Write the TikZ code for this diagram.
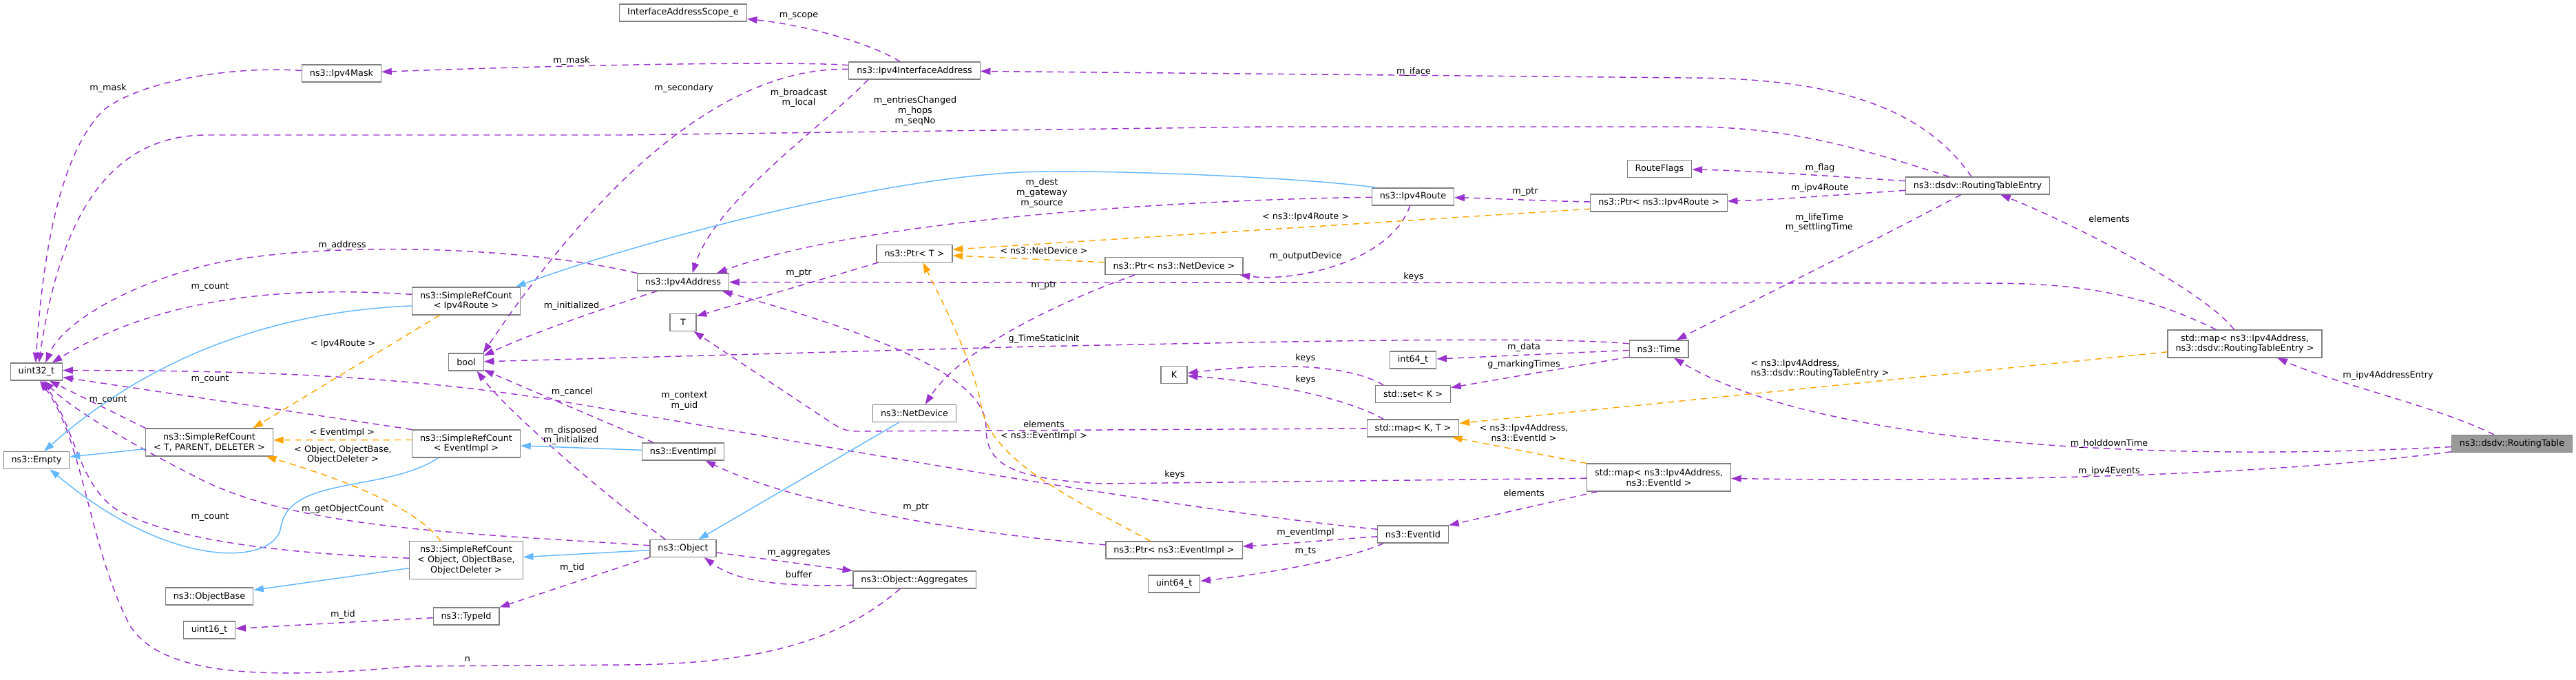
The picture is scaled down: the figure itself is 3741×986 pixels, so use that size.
\documentclass[tikz,border=0pt]{standalone}
\usepackage{fontspec}
\setmainfont{DejaVu Sans}
\usetikzlibrary{arrows.meta}

\definecolor{usecol}{HTML}{9A32CD}
\definecolor{tplcol}{HTML}{FFA500}
\definecolor{inhcol}{HTML}{63B8FF}
\definecolor{boxcol}{HTML}{808080}
\definecolor{maincol}{HTML}{999999}

\tikzset{
    box/.style={draw=boxcol, line width=0.9pt, fill=white, inner xsep=8.6pt, inner ysep=2pt,
        minimum height=18.75pt, minimum width=28.5pt, align=center},
    box2/.style={box, minimum height=30pt},
    box3/.style={box, minimum height=41.25pt},
    lbl/.style={inner sep=0pt, align=center},
    usage/.style={draw=usecol, line width=1.1pt, dash pattern=on 6.75pt off 5.25pt,
        -{Triangle[length=11pt, width=7.5pt]}},
    instance/.style={usage, draw=tplcol},
    inherits/.style={draw=inhcol, line width=1.1pt, -{Triangle[length=11pt, width=7.5pt]}},
}

\begin{document}
\begin{tikzpicture}[x=0.75pt, y=-0.75pt, every node/.style={font=\fontsize{9.6}{11}\selectfont}]
    \useasboundingbox (0, 0) rectangle (3741, 986);

    \node[box] (ias) at (992, 18.5) {InterfaceAddressScope\_e};
    \node[box] (iia) at (1328, 102.5) {ns3::Ipv4InterfaceAddress};
    \node[box] (mask) at (496, 106.5) {ns3::Ipv4Mask};
    \node[box] (rte) at (2872, 269.5) {ns3::dsdv::RoutingTableEntry};
    \node[box] (flags) at (2410, 245) {RouteFlags};
    \node[box] (ptrroute) at (2409, 294.5) {ns3::Ptr< ns3::Ipv4Route >};
    \node[box] (route) at (2052, 285.5) {ns3::Ipv4Route};
    \node[box] (ptrt) at (1328, 368) {ns3::Ptr< T >};
    \node[box] (ptrdev) at (1705, 386) {ns3::Ptr< ns3::NetDevice >};
    \node[box] (addr) at (992, 409.5) {ns3::Ipv4Address};
    \node[box2] (srcroute) at (677, 437) {ns3::SimpleRefCount\\< Ipv4Route >};
    \node[box] (t) at (992, 468) {T};
    \node[box] (uint32) at (53, 539.5) {uint32\_t};
    \node[box] (boolt) at (677, 525.5) {bool};
    \node[box] (k) at (1705, 544) {K};
    \node[box] (time) at (2409, 506.5) {ns3::Time};
    \node[box] (int64) at (2052, 522.5) {int64\_t};
    \node[box] (set) at (2052, 572) {std::set< K >};
    \node[box] (mapkt) at (2052, 621.5) {std::map< K, T >};
    \node[box2] (maprte) at (3260, 499) {std::map< ns3::Ipv4Address,\\ns3::dsdv::RoutingTableEntry >};
    \node[box, fill=maincol] (table) at (3648, 644) {ns3::dsdv::RoutingTable};
    \node[box] (netdev) at (1328, 600) {ns3::NetDevice};
    \node[box2] (srct) at (304, 642) {ns3::SimpleRefCount\\< T, PARENT, DELETER >};
    \node[box] (empty) at (53, 668) {ns3::Empty};
    \node[box2] (srcev) at (677, 644) {ns3::SimpleRefCount\\< EventImpl >};
    \node[box] (evimpl) at (992, 655.5) {ns3::EventImpl};
    \node[box2] (mapev) at (2409, 693) {std::map< ns3::Ipv4Address,\\ns3::EventId >};
    \node[box] (eventid) at (2052, 775.5) {ns3::EventId};
    \node[box] (ptrev) at (1705, 798.5) {ns3::Ptr< ns3::EventImpl >};
    \node[box] (object) at (992, 796) {ns3::Object};
    \node[box3] (srcobj) at (677, 813) {ns3::SimpleRefCount\\< Object, ObjectBase,\\ObjectDeleter >};
    \node[box] (aggr) at (1328, 841.5) {ns3::Object::Aggregates};
    \node[box] (uint64) at (1705, 847.5) {uint64\_t};
    \node[box] (objbase) at (304, 865.5) {ns3::ObjectBase};
    \node[box] (typeid) at (677, 894.5) {ns3::TypeId};
    \node[box] (uint16) at (304, 914.5) {uint16\_t};

    \draw[usage] (table) .. controls (3540, 590) and (3400, 560) .. (maprte);
    \draw[usage] (table) .. controls (3150, 670) and (2650, 650) .. (time);
    \draw[usage] (table) .. controls (3300, 690) and (2900, 700) .. (mapev);
    \draw[usage] (maprte) .. controls (3200, 420) and (3000, 320) .. (rte);
    \draw[usage] (maprte) .. controls (3100, 420) and (3000, 411) .. (2880, 411) -- (addr);
    \draw[usage] (rte) .. controls (2790, 150) and (2650, 113) .. (2450, 113) -- (iia);
    \draw[usage] (rte) .. controls (2700, 215) and (2600, 184) .. (2450, 184) -- (1840, 184)
          -- (900, 196) -- (300, 196) .. controls (150, 196) and (85, 330) .. (uint32.75);
    \draw[usage] (rte) .. controls (2650, 255) and (2550, 248) .. (flags);
    \draw[usage] (rte) .. controls (2680, 282) and (2580, 290) .. (ptrroute);
    \draw[usage] (rte) .. controls (2760, 330) and (2540, 440) .. (time);
    \draw[usage] (ptrroute) .. controls (2250, 292) and (2170, 288) .. (route);
    \draw[usage] (route) .. controls (1700, 290) and (1250, 320) .. (addr.15);
    \draw[usage] (route) .. controls (2020, 380) and (1880, 410) .. (ptrdev);
    \draw[usage] (iia) .. controls (1260, 60) and (1160, 35) .. (ias);
    \draw[usage] (iia) .. controls (1150, 88) and (800, 95) .. (mask);
    \draw[usage] (iia.-169) .. controls (1200, 180) and (1040, 290) .. (addr.44);
    \draw[usage] (iia) .. controls (1120, 98) and (940, 160) .. (boolt.28);
    \draw[usage] (mask) .. controls (330, 95) and (200, 120) .. (150, 160)
          .. controls (80, 230) and (60, 400) .. (uint32.95);
    \draw[usage] (addr.north west) .. controls (750, 355) and (450, 350) .. (300, 385)
          .. controls (180, 415) and (90, 470) .. (uint32.45);
    \draw[usage] (srcroute.173) .. controls (450, 418) and (250, 420) .. (uint32.30);
    \draw[usage] (addr.-161) .. controls (900, 440) and (780, 480) .. (boolt.20);
    \draw[usage] (time.170) .. controls (2250, 488) and (1900, 495) .. (1500, 503) -- (boolt);
    \draw[usage] (evimpl.163) -- (boolt.-24);
    \draw[usage] (object.153) .. controls (880, 720) and (740, 600) .. (boolt.-40);
    \draw[usage] (eventid.172) .. controls (1700, 740) and (1100, 630) .. (800, 580)
          .. controls (550, 540) and (300, 538) .. (uint32.3);
    \draw[usage] (srcev.north west) -- (uint32.-12);
    \draw[usage] (srct.north west) -- (uint32.-35);
    \draw[usage] (object.175) .. controls (700, 775) and (450, 770) .. (300, 700)
          .. controls (180, 640) and (100, 590) .. (uint32.-50);
    \draw[usage] (srcobj.178) .. controls (450, 805) and (260, 790) .. (170, 740)
          .. controls (115, 705) and (108, 620) .. (uint32.-58);
    \draw[usage] (aggr.-148) .. controls (1220, 930) and (1100, 965) .. (900, 965) -- (600, 967)
          .. controls (400, 985) and (240, 985) .. (190, 910)
          .. controls (130, 800) and (122, 640) .. (uint32.-70);
    \draw[usage] (ptrt.-166) -- (t.25);
    \draw[usage] (ptrev) .. controls (1400, 775) and (1150, 730) .. (evimpl.-22);
    \draw[usage] (ptrdev.-167) .. controls (1560, 430) and (1400, 500) .. (netdev.40);
    \draw[usage] (eventid) .. controls (1950, 782) and (1860, 790) .. (ptrev);
    \draw[usage] (eventid.-163) .. controls (1950, 815) and (1820, 835) .. (uint64);
    \draw[usage] (mapev.-167) -- (eventid.north east);
    \draw[usage] (time) -- (int64);
    \draw[usage] (time.-165) -- (set);
    \draw[usage] (set.163) .. controls (1960, 530) and (1860, 525) .. (k);
    \draw[usage] (mapkt.163) .. controls (1960, 580) and (1850, 555) .. (k);
    \draw[usage] (mapkt) -- (1245, 626) .. controls (1228, 626) and (1220, 622) .. (1205, 612) -- (t.-40);
    \draw[usage] (mapev) -- (1600, 702) .. controls (1460, 695) and (1432, 670) .. (1432, 620)
          .. controls (1432, 560) and (1330, 500) .. (addr.-13);
    \draw[usage] (object.-7) -- (aggr.north west);
    \draw[usage] (aggr.-175) .. controls (1140, 852) and (1070, 845) .. (object.-23);
    \draw[usage] (typeid) .. controls (560, 900) and (420, 908) .. (uint16);
    \draw[usage] (object.-165) -- (typeid.north east);

    \draw[instance] (srcroute.-152) -- (srct.18);
    \draw[instance] (srcev.176) -- (srct.2);
    \draw[instance] (srcobj.143) .. controls (610, 745) and (530, 705) .. (srct.-14);
    \draw[instance] (ptrroute.-175) -- (ptrt.6);
    \draw[instance] (ptrdev.177) -- (ptrt.-3);
    \draw[instance] (ptrev.159) .. controls (1560, 725) and (1440, 670) .. (1425, 590)
          .. controls (1415, 530) and (1370, 440) .. (ptrt.-47);
    \draw[instance] (maprte.-174) -- (mapkt.6);
    \draw[instance] (mapev.north west) -- (mapkt.-13);

    \draw[inherits] (route.166) .. controls (1900, 258) and (1600, 245) .. (1480, 250)
          .. controls (1250, 262) and (900, 360) .. (srcroute.16);
    \draw[inherits] (srcroute.-175) .. controls (450, 450) and (250, 490) .. (empty.50);
    \draw[inherits] (srct) -- (empty);
    \draw[inherits] (srcev.-153) .. controls (560, 715) and (420, 690) .. (408, 765)
          .. controls (400, 820) and (250, 830) .. (empty.-34);
    \draw[inherits] (evimpl) -- (srcev);
    \draw[inherits] (srcobj) -- (objbase);
    \draw[inherits] (object) -- (srcobj);
    \draw[inherits] (netdev) -- (object);

    \node[lbl] (l-addrentry) at (3468, 545) {m\_ipv4AddressEntry};
    \node[lbl] (l-holddown) at (3063, 644) {m\_holddownTime};
    \node[lbl] (l-events) at (3063, 684) {m\_ipv4Events};
    \node[lbl] (l-elements1) at (3063, 318) {elements};
    \node[lbl] (l-keys1) at (2053, 402) {keys};
    \node[lbl] (l-iface) at (2053, 104) {m\_iface};
    \node[lbl] (l-entries) at (1329, 161) {m\_entriesChanged\\m\_hops\\m\_seqNo};
    \node[lbl] (l-flag) at (2643, 244) {m\_flag};
    \node[lbl] (l-route) at (2643, 273) {m\_ipv4Route};
    \node[lbl] (l-life) at (2642, 323) {m\_lifeTime\\m\_settlingTime};
    \node[lbl] (l-ptr1) at (2215, 279) {m\_ptr};
    \node[lbl] (l-dest) at (1513, 280) {m\_dest\\m\_gateway\\m\_source};
    \node[lbl] (l-outdev) at (1896, 372) {m\_outputDevice};
    \node[lbl] (l-scope) at (1160, 23) {m\_scope};
    \node[lbl] (l-mask1) at (830, 88) {m\_mask};
    \node[lbl] (l-bcast) at (1160, 142) {m\_broadcast\\m\_local};
    \node[lbl] (l-second) at (993, 128) {m\_secondary};
    \node[lbl] (l-mask2) at (157, 128) {m\_mask};
    \node[lbl] (l-address) at (497, 356) {m\_address};
    \node[lbl] (l-count1) at (305, 417) {m\_count};
    \node[lbl] (l-init1) at (830, 444) {m\_initialized};
    \node[lbl] (l-static) at (1516, 492) {g\_TimeStaticInit};
    \node[lbl] (l-cancel) at (831, 569) {m\_cancel};
    \node[lbl] (l-disposed) at (829, 632) {m\_disposed\\m\_initialized};
    \node[lbl] (l-context) at (994, 582) {m\_context\\m\_uid};
    \node[lbl] (l-count2) at (305, 551) {m\_count};
    \node[lbl] (l-count3) at (157, 581) {m\_count};
    \node[lbl] (l-getcount) at (498, 739) {m\_getObjectCount};
    \node[lbl] (l-count4) at (305, 751) {m\_count};
    \node[lbl] (l-n) at (679, 957) {n};
    \node[lbl] (l-ptr2) at (1160, 397) {m\_ptr};
    \node[lbl] (l-ptr3) at (1330, 737) {m\_ptr};
    \node[lbl] (l-ptr4) at (1516, 415) {m\_ptr};
    \node[lbl] (l-evimpl) at (1896, 773) {m\_eventImpl};
    \node[lbl] (l-ts) at (1896, 801) {m\_ts};
    \node[lbl] (l-elements2) at (2213, 716) {elements};
    \node[lbl] (l-data) at (2213, 504) {m\_data};
    \node[lbl] (l-marking) at (2213, 529) {g\_markingTimes};
    \node[lbl] (l-keys2) at (1896, 520) {keys};
    \node[lbl] (l-keys3) at (1896, 551) {keys};
    \node[lbl] (l-elements3) at (1516, 616) {elements};
    \node[lbl] (l-keys4) at (1706, 689) {keys};
    \node[lbl] (l-aggr) at (1160, 803) {m\_aggregates};
    \node[lbl] (l-buffer) at (1160, 834) {buffer};
    \node[lbl] (l-tid1) at (498, 892) {m\_tid};
    \node[lbl] (l-tid2) at (831, 824) {m\_tid};

    \node[lbl] (t-route) at (498, 499) {< Ipv4Route >};
    \node[lbl] (t-event) at (497, 628) {< EventImpl >};
    \node[lbl] (t-object) at (498, 660) {< Object, ObjectBase,\\ObjectDeleter >};
    \node[lbl] (t-ipv4route) at (1896, 315) {< ns3::Ipv4Route >};
    \node[lbl] (t-netdev) at (1516, 364) {< ns3::NetDevice >};
    \node[lbl] (t-evimpl) at (1516, 633) {< ns3::EventImpl >};
    \node[lbl, align=left] (t-maprte) at (2643, 535) {< ns3::Ipv4Address,\\ns3::dsdv::RoutingTableEntry >};
    \node[lbl] (t-mapev) at (2213, 628) {< ns3::Ipv4Address,\\ns3::EventId >};
\end{tikzpicture}
\end{document}
